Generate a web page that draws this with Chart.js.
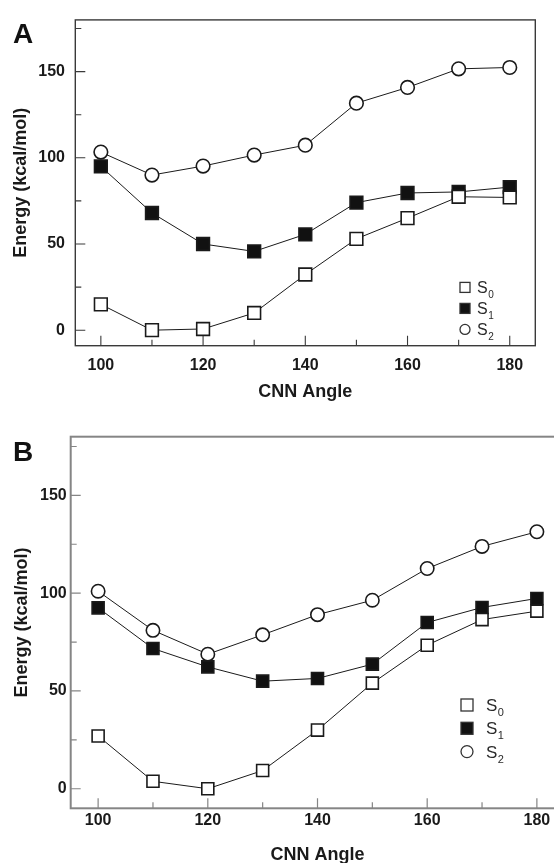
<!DOCTYPE html>
<html>
<head>
<meta charset="utf-8">
<script src="https://cdn.jsdelivr.net/npm/chart.js@4.4.1/dist/chart.umd.min.js"></script>
<style>
  html, body { margin: 0; padding: 0; background: #fff; overflow: hidden; width: 554px; height: 863px; }
  .panel { position: absolute; left: 0; }
  #boxA { top: 0; width: 554px; height: 420px; }
  #boxB { top: 420px; width: 600px; height: 460px; }
  .letter { position: absolute; font: bold 28px "Liberation Sans", Arial, sans-serif; line-height: 28px; color: #111; }
</style>
</head>
<body>
<div class="panel" id="boxA"><canvas id="chartA"></canvas></div>
<div class="panel" id="boxB"><canvas id="chartB"></canvas></div>
<div class="letter" style="left:13px;top:19.6px;">A</div>
<div class="letter" style="left:13px;top:438px;">B</div>
<script>
// --- data ---
const angles = [100, 110, 120, 130, 140, 150, 160, 170, 180];

// panel A
const s0A = [15, 0, 0.7, 10, 32.3, 53, 65, 77.4, 77];
const s1A = [95, 68, 50, 45.7, 55.6, 74, 79.6, 80.2, 83];
const s2A = [103.3, 90, 95.2, 101.6, 107.3, 131.7, 140.8, 151.6, 152.4];

// panel B
const s0B = [27, 3.8, 0, 9.3, 30, 54, 73.4, 86.5, 90.8];
const s1B = [92.5, 71.7, 62.3, 55, 56.4, 63.7, 85, 92.7, 97.3];
const s2B = [101, 81, 68.8, 78.7, 89, 96.4, 112.6, 123.9, 131.4];

// axis ticks
const xTicks = [100, 110, 120, 130, 140, 150, 160, 170, 180];
const xLabeled = [100, 120, 140, 160, 180];
const yTicks = [0, 25, 50, 75, 100, 125, 150, 175];
const yLabeled = [0, 50, 100, 150];

// legend text: "S" with subscript
const legendBase = ["S", "S", "S"];
const legendSub = ["0", "1", "2"];

const FONT = "'Liberation Sans', Arial, Helvetica, sans-serif";
const INK = "#1a1a1a";

// frame + inward tick marks
const framePlugin = {
  id: "frame",
  beforeDatasetsDraw(chart, args, opts) {
    const { ctx, chartArea: a } = chart;
    const xs = chart.scales.x, ys = chart.scales.y;
    ctx.save();
    ctx.strokeStyle = opts.color;
    ctx.lineWidth = opts.width;
    ctx.strokeRect(a.left, a.top, a.right - a.left, a.bottom - a.top);
    ctx.lineWidth = opts.tickWidth;
    ctx.beginPath();
    xTicks.forEach((v) => {
      const px = xs.getPixelForValue(v);
      const len = xLabeled.includes(v) ? opts.major : opts.minor;
      ctx.moveTo(px, a.bottom);
      ctx.lineTo(px, a.bottom - len);
    });
    yTicks.forEach((v) => {
      const py = ys.getPixelForValue(v);
      const len = yLabeled.includes(v) ? opts.major : opts.minor;
      ctx.moveTo(a.left, py);
      ctx.lineTo(a.left + len, py);
    });
    ctx.stroke();
    ctx.restore();
  },
};

// legend with subscripts, drawn inside the plot
const subLegendPlugin = {
  id: "subLegend",
  afterDatasetsDraw(chart, args, opts) {
    const { ctx, chartArea: a } = chart;
    ctx.save();
    chart.data.datasets.forEach((ds, i) => {
      const cx = a.left + opts.dx;
      const cy = a.top + opts.dy + i * opts.step;
      ctx.lineWidth = 1.3;
      ctx.strokeStyle = "#333";
      ctx.fillStyle = ds.pointBackgroundColor;
      if (ds.pointStyle === "circle") {
        ctx.beginPath();
        ctx.arc(cx, cy, opts.box / 2, 0, Math.PI * 2);
        ctx.fill();
        ctx.stroke();
      } else {
        ctx.fillRect(cx - opts.box / 2, cy - opts.box / 2, opts.box, opts.box);
        ctx.strokeRect(cx - opts.box / 2, cy - opts.box / 2, opts.box, opts.box);
      }
      ctx.fillStyle = "#2a2a2a";
      ctx.textBaseline = "alphabetic";
      ctx.font = opts.size + "px " + FONT;
      const tx = cx + opts.textGap;
      const base = cy + opts.size * 0.36;
      ctx.fillText(legendBase[i], tx, base);
      const w = ctx.measureText(legendBase[i]).width;
      ctx.font = opts.subSize + "px " + FONT;
      ctx.fillText(legendSub[i], tx + w + 0.5, base + opts.subDrop);
    });
    ctx.restore();
  },
};

function makeChart(canvasId, s0, s1, s2, cfg) {
  const sq = cfg.squareR, cr = cfg.circleR;
  const lineBits = {
    borderColor: INK,
    borderWidth: 1,
    pointBorderColor: INK,
    pointBorderWidth: 1.6,
    tension: 0,
  };
  return new Chart(document.getElementById(canvasId), {
    type: "line",
    data: {
      labels: angles,
      datasets: [
        { label: "S0", data: angles.map((x, i) => ({ x, y: s0[i] })), pointStyle: "rect", pointRadius: sq, pointBackgroundColor: "#fff", ...lineBits },
        { label: "S1", data: angles.map((x, i) => ({ x, y: s1[i] })), pointStyle: "rect", pointRadius: sq, pointBackgroundColor: "#111", ...lineBits },
        { label: "S2", data: angles.map((x, i) => ({ x, y: s2[i] })), pointStyle: "circle", pointRadius: cr, pointBackgroundColor: "#fff", ...lineBits },
      ],
    },
    options: {
      responsive: true,
      maintainAspectRatio: false,
      animation: false,
      events: [],
      layout: { padding: cfg.padding },
      scales: {
        x: {
          type: "linear",
          min: 95,
          max: 185,
          afterBuildTicks: (s) => { s.ticks = xTicks.map((v) => ({ value: v })); },
          afterFit: (s) => { s.height = cfg.xHeight; },
          grid: { display: true, drawOnChartArea: false, drawTicks: false },
          border: { display: false },
          ticks: {
            padding: cfg.xPad,
            color: INK,
            font: { family: FONT, size: 16, weight: "bold" },
            maxRotation: 0,
            autoSkip: false,
            callback: (v) => (xLabeled.includes(v) ? String(v) : ""),
          },
          title: {
            display: true,
            text: "CNN Angle",
            color: INK,
            font: { family: FONT, size: 18, weight: "bold" },
            padding: { top: 0, bottom: cfg.xTitlePad },
          },
        },
        y: {
          min: cfg.yMin,
          max: 180,
          afterBuildTicks: (s) => { s.ticks = yTicks.map((v) => ({ value: v })); },
          afterFit: (s) => { s.width = cfg.yWidth; },
          grid: { display: true, drawOnChartArea: false, drawTicks: false },
          border: { display: false },
          ticks: {
            padding: cfg.yPad,
            color: INK,
            font: { family: FONT, size: 16, weight: "bold" },
            autoSkip: false,
            callback: (v) => (yLabeled.includes(v) ? String(v) : ""),
          },
          title: {
            display: true,
            text: "Energy (kcal/mol)",
            color: INK,
            font: { family: FONT, size: 18, weight: "bold" },
            padding: { top: cfg.yTitlePad, bottom: 0 },
          },
        },
      },
      plugins: {
        legend: { display: false },
        tooltip: { enabled: false },
        frame: cfg.frame,
        subLegend: cfg.legend,
      },
    },
    plugins: [framePlugin, subLegendPlugin],
  });
}

makeChart("chartA", s0A, s1A, s2A, {
  padding: { top: 13.3, right: 18.7, bottom: 0, left: 0 },
  yWidth: 75.3,
  xHeight: 74.3,
  yMin: -9,
  xPad: 10.7,
  yPad: 10.3,
  xTitlePad: 17.2,
  yTitlePad: 10.7,
  squareR: 9,
  circleR: 6.8,
  frame: { color: "#3a3a3a", width: 1.4, tickWidth: 1.1, major: 10, minor: 6 },
  legend: { dx: 389.7, dy: 267.5, step: 21, box: 10, textGap: 12, size: 16, subSize: 10, subDrop: 5 },
});

makeChart("chartB", s0B, s1B, s2B, {
  padding: { top: 16.7, right: 35.7, bottom: 0, left: 0 },
  yWidth: 70.7,
  xHeight: 71.7,
  yMin: -10,
  xPad: 3.1,
  yPad: 4,
  xTitlePad: 14.2,
  yTitlePad: 11.7,
  squareR: 8.5,
  circleR: 6.7,
  frame: { color: "#858585", width: 2, tickWidth: 1.2, major: 10, minor: 6 },
  legend: { dx: 396.3, dy: 268.3, step: 23.3, box: 12, textGap: 19, size: 17, subSize: 11, subDrop: 5 },
});
</script>
</body>
</html>
